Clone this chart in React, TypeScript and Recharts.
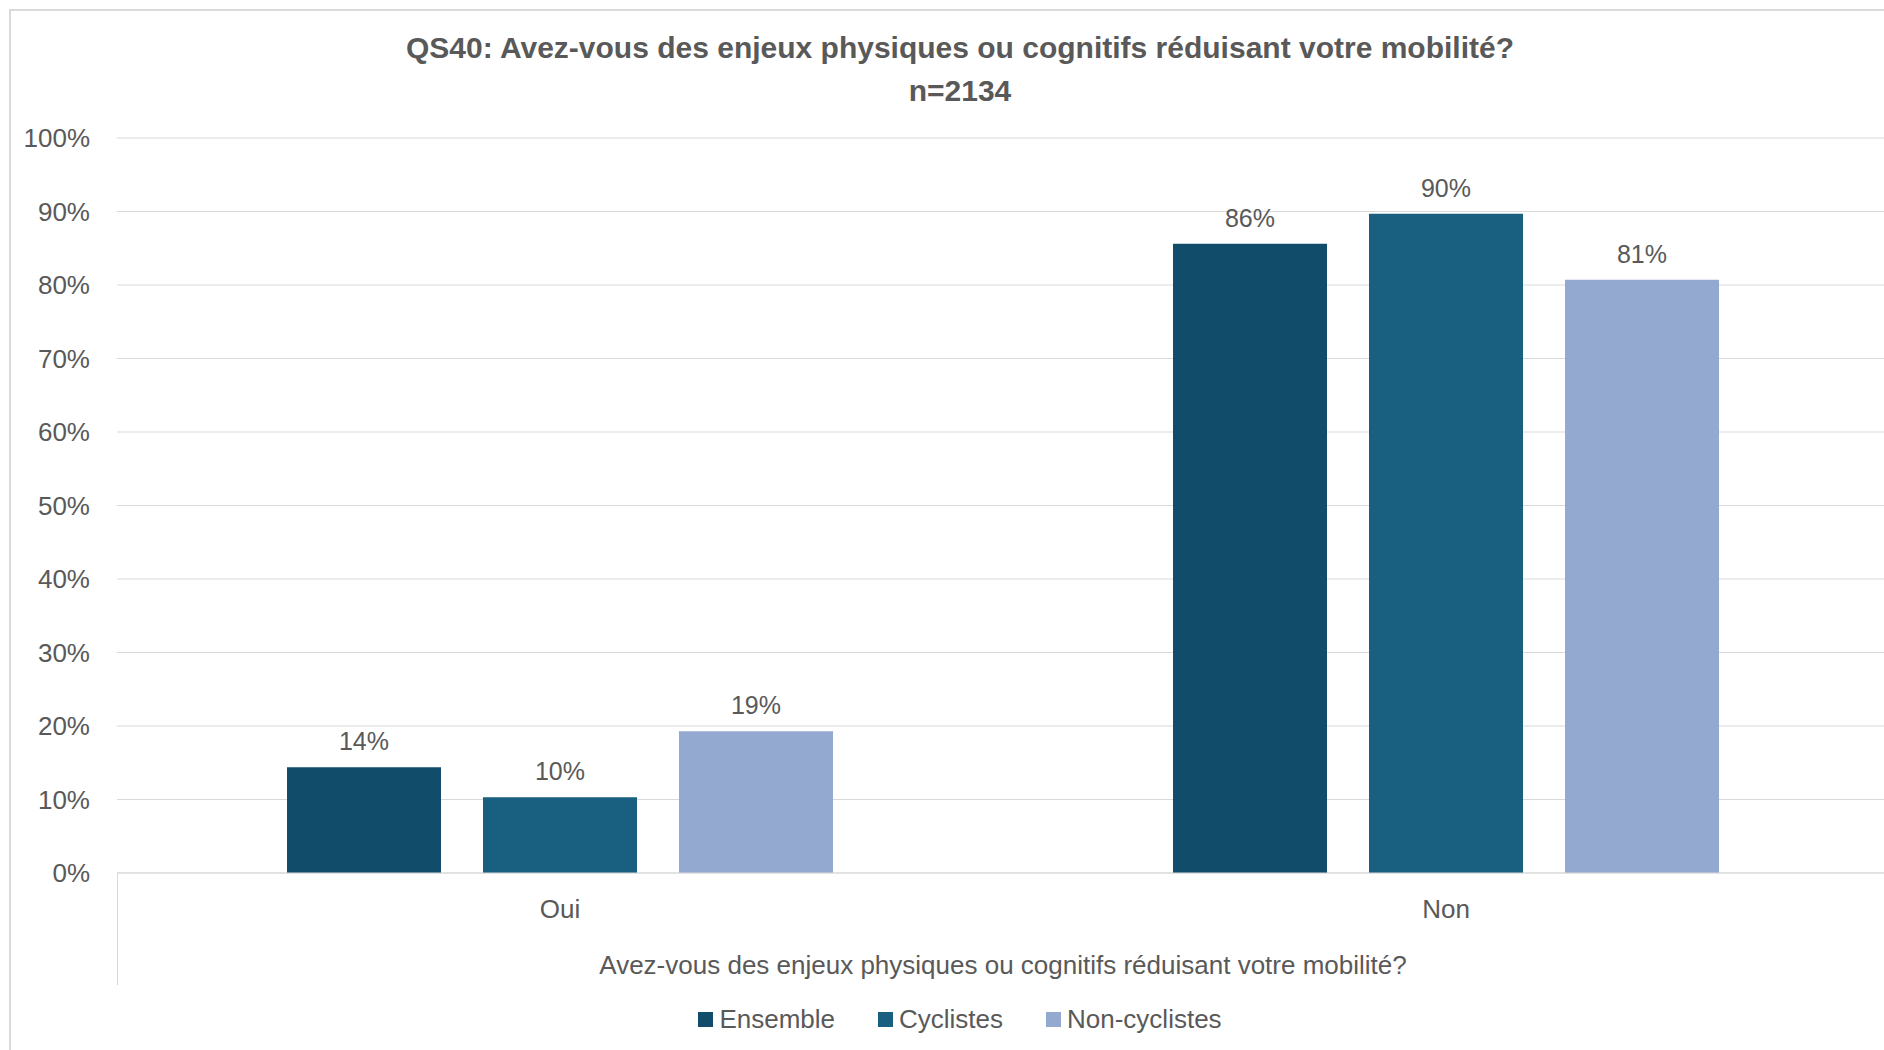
import React from 'react';
import { BarChart, Bar, XAxis, YAxis, CartesianGrid, LabelList, Label } from 'recharts';

const categories = ['Oui', 'Non'];
const ensemble = [14.4, 85.6];
const cyclistes = [10.3, 89.7];
const nonCyclistes = [19.3, 80.7];
const yTicks = [0, 10, 20, 30, 40, 50, 60, 70, 80, 90, 100];

const series = [
  { key: 'ensemble', name: 'Ensemble', color: '#114d6a' },
  { key: 'cyclistes', name: 'Cyclistes', color: '#185f80' },
  { key: 'nonCyclistes', name: 'Non-cyclistes', color: '#94a9cf' },
];

const data = categories.map((name, i) => ({
  name,
  ensemble: ensemble[i],
  cyclistes: cyclistes[i],
  nonCyclistes: nonCyclistes[i],
}));

const font = '"Liberation Sans", Arial, sans-serif';
const textColor = '#595959';
const gridColor = '#d9d9d9';

const pct = (v: any) => `${Math.round(Number(v))}%`;

export default function App() {
  return (
    <div style={{ position: 'relative', width: 1884, height: 1050, overflow: 'hidden', background: '#fff', fontFamily: font }}>
      <style>{`body{margin:0}`}</style>
      {/* chart frame */}
      <div style={{ position: 'absolute', left: 9, top: 9, width: 2000, height: 2000, borderLeft: `2px solid ${gridColor}`, borderTop: `2px solid ${gridColor}` }} />
      <div style={{ position: 'absolute', left: 0, width: 1920, top: 26, textAlign: 'center', color: textColor, fontWeight: 'bold', fontSize: 30, lineHeight: '43px' }}>
        <div>QS40: Avez-vous des enjeux physiques ou cognitifs réduisant votre mobilité?</div>
        <div>n=2134</div>
      </div>
      <div style={{ position: 'absolute', left: 0, top: 0 }}>
        <BarChart width={1890} height={1050} data={data} margin={{ top: 138, right: 1, bottom: 147, left: 0 }} barGap={42} barSize={154}>
          <CartesianGrid vertical={false} stroke={gridColor} />
          <XAxis
            dataKey="name"
            height={30}
            tickLine={false}
            tickSize={0}
            tickMargin={27}
            axisLine={{ stroke: gridColor }}
            tick={{ fill: textColor, fontSize: 26, fontFamily: font }}
          >
            <Label
              value="Avez-vous des enjeux physiques ou cognitifs réduisant votre mobilité?"
              position="bottom"
              offset={53}
              fill={textColor}
              fontSize={26}
              fontFamily={font}
            />
          </XAxis>
          <YAxis
            width={117}
            domain={[0, 100]}
            ticks={yTicks}
            interval={0}
            tickFormatter={(v) => `${v}%`}
            axisLine={false}
            tickLine={false}
            tickSize={0}
            tickMargin={27}
            tick={{ fill: textColor, fontSize: 26, fontFamily: font }}
          />
          {series.map((s) => (
            <Bar key={s.key} dataKey={s.key} name={s.name} fill={s.color} isAnimationActive={false}>
              <LabelList dataKey={s.key} position="top" offset={17} formatter={pct} fill={textColor} fontSize={25} fontFamily={font} />
            </Bar>
          ))}
        </BarChart>
      </div>
      {/* left divider under the category axis */}
      <div style={{ position: 'absolute', left: 117, top: 873, width: 1, height: 112, background: gridColor }} />
      {/* legend */}
      <div style={{ position: 'absolute', left: 0, width: 1920, top: 1004, display: 'flex', justifyContent: 'center', alignItems: 'center', height: 30, color: textColor, fontSize: 26 }}>
        {series.map((s, i) => (
          <div key={s.key} style={{ display: 'flex', alignItems: 'center', marginLeft: i === 0 ? 0 : 43 }}>
            <span style={{ display: 'inline-block', width: 15, height: 15, background: s.color, marginRight: 6 }} />
            <span>{s.name}</span>
          </div>
        ))}
      </div>
    </div>
  );
}
